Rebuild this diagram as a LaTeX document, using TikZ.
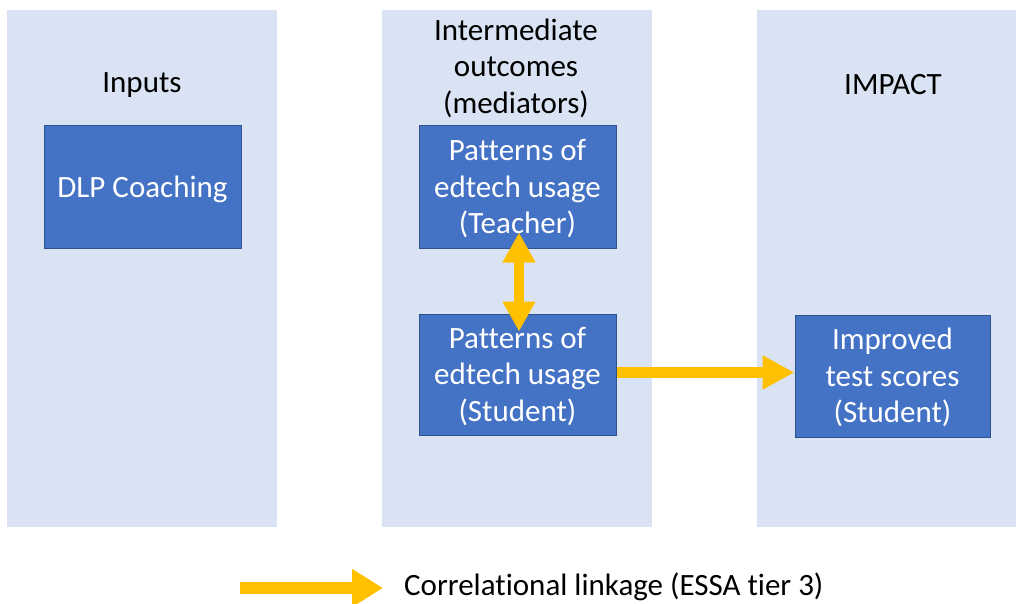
\documentclass[tikz,border=0pt]{standalone}
\usepackage{fontspec}
\setmainfont{Carlito}[Ligatures=NoCommon]
\usetikzlibrary{arrows.meta}
\definecolor{colbg}{HTML}{DAE3F3}
\definecolor{boxfill}{HTML}{4472C4}
\definecolor{boxline}{HTML}{2F528F}
\definecolor{linkgold}{HTML}{FFC000}
% centred lines of box text, set a little below the box centre
\newcommand{\boxlines}[1]{\raisebox{-3pt}[\height][\depth]{\begin{tabular}{@{}c@{}}#1\end{tabular}}}

\begin{document}
\begin{tikzpicture}[x=1pt,y=-1pt,
  column/.style={fill=colbg,draw=none},
  header/.style={font=\fontsize{31}{36.5}\selectfont, align=center, text=black, inner sep=0pt},
  stagebox/.style={draw=boxline, line width=1pt, fill=boxfill, text=white,
    font=\fontsize{31}{36.5}\selectfont,
    minimum width=197pt, minimum height=122pt, inner sep=0pt},
  link/.style={draw=linkgold, line width=10.5pt, -{Triangle[length=32pt,width=32pt]}},
  duallink/.style={draw=linkgold, line width=10pt,
    {Triangle[length=30pt,width=31pt]}-{Triangle[length=30pt,width=31pt]}},
  legendlink/.style={draw=linkgold, line width=12pt, -{Triangle[length=31pt,width=36pt]}},
  legendtext/.style={font=\fontsize{31}{36.5}\selectfont, anchor=west, inner sep=0pt}
]
\useasboundingbox (0,0) rectangle (1016,604);

% stage columns
\fill[column] (7,10) rectangle (277,527);
\fill[column] (382,10) rectangle (652,527);
\fill[column] (757,10) rectangle (1016,527);

% column headings
\node[header] (hin) at (142,85) {Inputs};
\node[header] (hmid) at (516,68) {Intermediate\\outcomes\\(mediators)};
\node[header] (himp) at (893,85) {IMPACT};

% stage boxes
\node[stagebox] (dlp) at (142.5,187) {\boxlines{DLP Coaching}};
\node[stagebox] (teacher) at (517.5,187) {\boxlines{Patterns of\\edtech usage\\(Teacher)}};
\node[stagebox, minimum height=121pt] (student) at (517.5,374.5) {\boxlines{Patterns of\\edtech usage\\(Student)}};
\node[stagebox, minimum width=195pt] (improved) at (892.5,376) {\boxlines{Improved\\test scores\\(Student)}};

% correlational links
\draw[duallink, shorten <=-16pt, shorten >=-18pt] ([xshift=1.5pt]teacher.south) -- ([xshift=1.5pt]student.north);
\draw[link] ([yshift=2pt]student.east) -- ([yshift=2pt]student.east -| improved.west);

% legend
\coordinate (legA) at (240,588);
\coordinate (legB) at (383,588);
\draw[legendlink] (legA) -- (legB);
\node[legendtext] (legtext) at (404,587) {Correlational linkage (ESSA tier 3)};
\end{tikzpicture}
\end{document}
